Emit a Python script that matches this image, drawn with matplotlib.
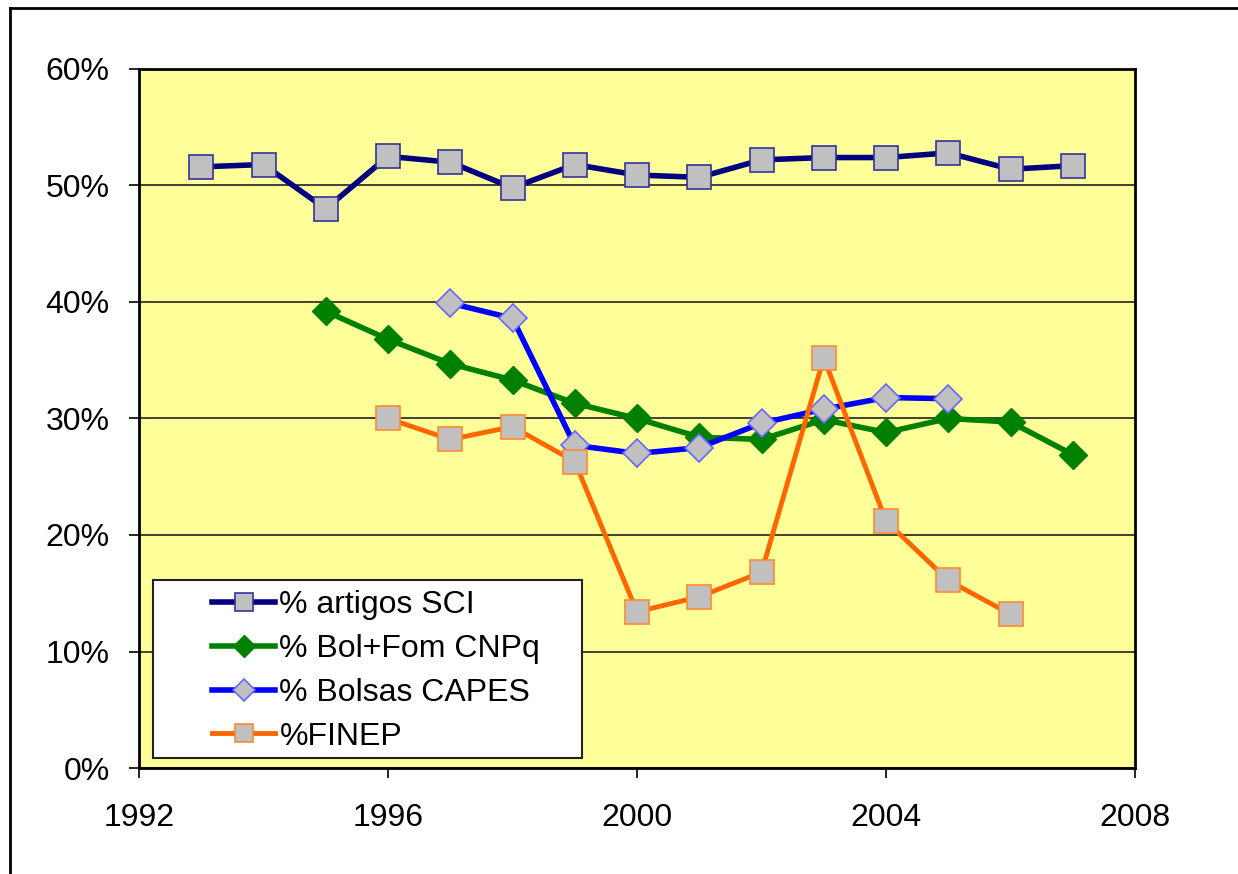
import matplotlib.pyplot as plt
from matplotlib.lines import Line2D
from matplotlib.patches import Rectangle
from matplotlib.ticker import FuncFormatter

plt.rcParams['font.family'] = ['Liberation Sans', 'DejaVu Sans']

anos_sci = [1993, 1994, 1995, 1996, 1997, 1998, 1999, 2000, 2001, 2002, 2003, 2004, 2005, 2006, 2007]
artigos_sci = [51.6, 51.8, 48.0, 52.5, 52.0, 49.8, 51.8, 50.9, 50.7, 52.2, 52.4, 52.4, 52.8, 51.4, 51.7]

anos_cnpq = [1995, 1996, 1997, 1998, 1999, 2000, 2001, 2002, 2003, 2004, 2005, 2006, 2007]
bol_fom_cnpq = [39.2, 36.8, 34.7, 33.3, 31.3, 30.0, 28.4, 28.2, 29.9, 28.8, 30.0, 29.7, 26.9]

anos_capes = [1997, 1998, 1999, 2000, 2001, 2002, 2003, 2004, 2005]
bolsas_capes = [39.9, 38.6, 27.7, 27.0, 27.5, 29.6, 30.8, 31.8, 31.7]

anos_finep = [1996, 1997, 1998, 1999, 2000, 2001, 2002, 2003, 2004, 2005, 2006]
finep = [30.0, 28.2, 29.3, 26.3, 13.4, 14.7, 16.8, 35.2, 21.2, 16.1, 13.2]

fig = plt.figure(figsize=(12.38, 8.74), dpi=100)
ax = fig.add_axes([139 / 1238, 1 - 768 / 874, 996 / 1238, 699 / 874])
ax.set_facecolor('#FFFF99')

ax.plot(anos_sci, artigos_sci, color='#000080', lw=4, marker='s', ms=17.5,
        mfc='#C0C0C0', mec='#333399', mew=1.2, label='% artigos SCI', zorder=4)
ax.plot(anos_cnpq, bol_fom_cnpq, color='#008000', lw=4, marker='D', ms=14,
        mfc='#008000', mec='#008000', mew=1, label='% Bol+Fom CNPq', zorder=3)
ax.plot(anos_capes, bolsas_capes, color='#0000FF', lw=4, marker='D', ms=14,
        mfc='#C0C0C0', mec='#6666FF', mew=1.2, label='% Bolsas CAPES', zorder=4)
ax.plot(anos_finep, finep, color='#FF6600', lw=3.5, marker='s', ms=17.5,
        mfc='#C0C0C0', mec='#FF8833', mew=1.2, label='%FINEP', zorder=5)

ax.set_xlim(1992, 2008)
ax.set_ylim(0, 60)
ax.set_xticks(range(1992, 2009, 4))
ax.set_yticks(range(0, 61, 10))
ax.yaxis.set_major_formatter(FuncFormatter(lambda v, p: '%d%%' % v))
ax.grid(axis='y', color='#222222', lw=1.2)
ax.set_axisbelow(True)
for s in ax.spines.values():
    s.set_linewidth(2)
    s.set_color('black')
ax.tick_params(axis='y', direction='out', length=7, width=1.2, labelsize=23, pad=14)
ax.tick_params(axis='x', direction='out', length=7, width=1.2, labelsize=23, pad=18)

# legend box
x0 = (153 - 139) / 996
y0 = (768 - 758) / 699
w = (582 - 153) / 996
h = (758 - 580) / 699
ax.add_patch(Rectangle((x0, y0), w, h, transform=ax.transAxes, facecolor='white',
                       edgecolor='#222222', lw=1.5, zorder=6))
leg = ax.legend(loc='upper left', bbox_to_anchor=((206 - 139) / 996, (768 - 584) / 699),
                frameon=False, fontsize=23, handlelength=1.95, handletextpad=0.15,
                labelspacing=0.43, borderaxespad=0, borderpad=0.2)
leg.set_zorder(7)
for hd in leg.legend_handles:
    if hd.get_marker() == 'D':
        hd.set_markersize(11)
    else:
        hd.set_markersize(13)

fig.add_artist(Line2D([10 / 1238, 10 / 1238], [0, 1 - 8 / 874], color='black', lw=2))
fig.add_artist(Line2D([10 / 1238, 1], [1 - 8 / 874, 1 - 8 / 874], color='black', lw=2))

fig.savefig('out.png', dpi=100)
